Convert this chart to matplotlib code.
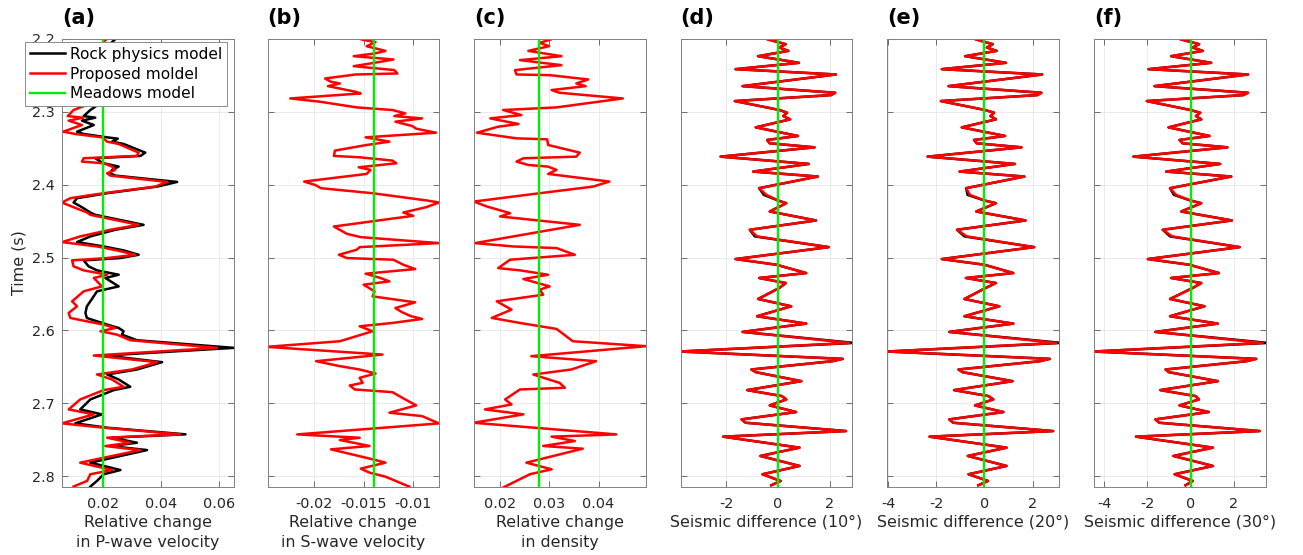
import numpy as np
import matplotlib
matplotlib.use('Agg')
import matplotlib.pyplot as plt
from matplotlib.ticker import FormatStrFormatter

plt.rcParams['font.family'] = ['DejaVu Sans']
plt.rcParams['axes.unicode_minus'] = False

# ---- panel (a): relative change in P-wave velocity ----
t_a = [2.2007, 2.2150, 2.2300, 2.2450, 2.2600, 2.2750, 2.2880,
       2.2975, 2.3058, 2.3080, 2.3121, 2.3181, 2.3272, 2.3304, 2.3350, 2.3368, 2.3409,
       2.3441, 2.3560, 2.3605, 2.3637, 2.3683, 2.3706, 2.3751, 2.3797, 2.3843, 2.3875,
       2.3962, 2.4026, 2.4117, 2.4185, 2.4245, 2.4309, 2.4382, 2.4414, 2.4551, 2.4619,
       2.4710, 2.4788, 2.4848, 2.4902, 2.4962, 2.5007, 2.5039, 2.5121, 2.5176, 2.5236,
       2.5281, 2.5396, 2.5464, 2.5601, 2.5670, 2.5761, 2.5830, 2.5921, 2.5967, 2.6012,
       2.6058, 2.6135, 2.6240, 2.6345, 2.6436, 2.6537, 2.6605, 2.6674, 2.6774, 2.6820,
       2.6948, 2.7085, 2.7153, 2.7276, 2.7336, 2.7427, 2.7473, 2.7542, 2.7588, 2.7643,
       2.7816, 2.7917, 2.7975, 2.8066, 2.8144]
rock_a = [0.0240, 0.0200, 0.0250, 0.0180, 0.0220, 0.0160, 0.0190,
          0.0155, 0.0132, 0.0172, 0.0126, 0.0167, 0.0109, 0.0132, 0.0213, 0.0250, 0.0230,
          0.0270, 0.0345, 0.0328, 0.0172, 0.0190, 0.0201, 0.0253, 0.0230, 0.0224, 0.0241,
          0.0455, 0.0386, 0.0213, 0.0109, 0.0097, 0.0126, 0.0155, 0.0172, 0.0339, 0.0241,
          0.0155, 0.0109, 0.0201, 0.0270, 0.0322, 0.0259, 0.0132, 0.0149, 0.0178, 0.0253,
          0.0207, 0.0253, 0.0178, 0.0155, 0.0143, 0.0138, 0.0143, 0.0213, 0.0253, 0.0270,
          0.0264, 0.0316, 0.0651, 0.0207, 0.0403, 0.0316, 0.0213, 0.0253, 0.0293, 0.0236,
          0.0155, 0.0120, 0.0195, 0.0103, 0.0213, 0.0484, 0.0230, 0.0316, 0.0224, 0.0351,
          0.0155, 0.0259, 0.0201, 0.0178, 0.0155]
prop_a = [0.0210, 0.0170, 0.0220, 0.0150, 0.0190, 0.0130, 0.0160,
          0.0097, 0.0077, 0.0130, 0.0080, 0.0126, 0.0061, 0.0103, 0.0195, 0.0201, 0.0213,
          0.0253, 0.0322, 0.0316, 0.0132, 0.0126, 0.0201, 0.0230, 0.0241, 0.0213, 0.0224,
          0.0420, 0.0380, 0.0201, 0.0086, 0.0057, 0.0097, 0.0144, 0.0155, 0.0322, 0.0224,
          0.0120, 0.0057, 0.0178, 0.0247, 0.0311, 0.0213, 0.0092, 0.0097, 0.0132, 0.0213,
          0.0167, 0.0195, 0.0132, 0.0092, 0.0109, 0.0080, 0.0086, 0.0201, 0.0241, 0.0190,
          0.0247, 0.0293, 0.0593, 0.0167, 0.0386, 0.0299, 0.0178, 0.0230, 0.0270, 0.0201,
          0.0120, 0.0080, 0.0167, 0.0057, 0.0201, 0.0466, 0.0213, 0.0293, 0.0207, 0.0328,
          0.0120, 0.0230, 0.0155, 0.0144, 0.0097]
meadows_a = 0.0199

# ---- panel (b): relative change in S-wave velocity ----
t_b = [2.2007, 2.2044, 2.2099, 2.2163, 2.2199, 2.2236, 2.2281, 2.2322, 2.2373, 2.2427,
       2.2473, 2.2487, 2.2542, 2.2587, 2.2610, 2.2647, 2.2725, 2.2747, 2.2816, 2.2861,
       2.2939, 2.2975, 2.3021, 2.3058, 2.3090, 2.3135, 2.3195, 2.3231, 2.3286, 2.3350,
       2.3409, 2.3455, 2.3532, 2.3605, 2.3624, 2.3669, 2.3706, 2.3761, 2.3797, 2.3852,
       2.3957, 2.4003, 2.4048, 2.4117, 2.4217, 2.4245, 2.4309, 2.4382, 2.4427, 2.4574,
       2.4674, 2.4720, 2.4802, 2.4857, 2.4893, 2.4962, 2.5007, 2.5030, 2.5099, 2.5158,
       2.5222, 2.5281, 2.5327, 2.5373, 2.5464, 2.5533, 2.5615, 2.5693, 2.5752, 2.5806,
       2.5843, 2.5898, 2.5944, 2.6012, 2.6149, 2.6226, 2.6332, 2.6423, 2.6491, 2.6537,
       2.6592, 2.6651, 2.6720, 2.6756, 2.6811, 2.6848, 2.6948, 2.7030, 2.7130, 2.7177,
       2.7277, 2.7428, 2.7474, 2.7505, 2.7587, 2.7633, 2.7770, 2.7816, 2.7898, 2.7953,
       2.8008, 2.8145]
prop_b = [-0.0152, -0.0138, -0.0147, -0.0128, -0.0139, -0.0160, -0.0120, -0.0137, -0.0160, -0.0119,
          -0.0116, -0.0158, -0.0189, -0.0183, -0.0174, -0.0186, -0.0158, -0.0153, -0.0224, -0.0194,
          -0.0157, -0.0121, -0.0108, -0.0119, -0.0091, -0.0118, -0.0101, -0.0097, -0.0077, -0.0148,
          -0.0124, -0.0147, -0.0179, -0.0180, -0.0154, -0.0121, -0.0117, -0.0155, -0.0143, -0.0147,
          -0.0210, -0.0199, -0.0193, -0.0141, -0.0086, -0.0074, -0.0087, -0.0110, -0.0100, -0.0180,
          -0.0167, -0.0153, -0.0074, -0.0154, -0.0157, -0.0175, -0.0167, -0.0120, -0.0110, -0.0098,
          -0.0148, -0.0133, -0.0124, -0.0150, -0.0139, -0.0141, -0.0098, -0.0118, -0.0111, -0.0102,
          -0.0091, -0.0121, -0.0154, -0.0141, -0.0174, -0.0248, -0.0131, -0.0198, -0.0174, -0.0154,
          -0.0138, -0.0154, -0.0151, -0.0164, -0.0159, -0.0121, -0.0108, -0.0097, -0.0124, -0.0091,
          -0.0074, -0.0217, -0.0154, -0.0174, -0.0144, -0.0183, -0.0141, -0.0128, -0.0153, -0.0144,
          -0.0128, -0.0104]
meadows_b = -0.0140

# ---- panel (c): relative change in density ----
t_c = [2.2007, 2.2053, 2.2099, 2.2163, 2.2236, 2.2290, 2.2359, 2.2427, 2.2487, 2.2496,
       2.2555, 2.2610, 2.2647, 2.2701, 2.2738, 2.2816, 2.2939, 2.2975, 2.3044, 2.3090,
       2.3167, 2.3204, 2.3286, 2.3332, 2.3364, 2.3377, 2.3455, 2.3560, 2.3615, 2.3637,
       2.3683, 2.3729, 2.3752, 2.3797, 2.3852, 2.3957, 2.4026, 2.4117, 2.4231, 2.4299,
       2.4391, 2.4436, 2.4551, 2.4802, 2.4848, 2.4870, 2.4962, 2.5030, 2.5145, 2.5176,
       2.5236, 2.5295, 2.5396, 2.5441, 2.5510, 2.5601, 2.5715, 2.5829, 2.5898, 2.5980,
       2.6149, 2.6217, 2.6354, 2.6423, 2.6537, 2.6606, 2.6720, 2.6788, 2.6811, 2.6948,
       2.7017, 2.7085, 2.7153, 2.7268, 2.7428, 2.7459, 2.7519, 2.7587, 2.7624, 2.7816,
       2.7907, 2.7975, 2.8158]
prop_c = [0.0303, 0.0281, 0.0300, 0.0258, 0.0325, 0.0241, 0.0325, 0.0231, 0.0234, 0.0301,
          0.0379, 0.0355, 0.0374, 0.0305, 0.0321, 0.0449, 0.0315, 0.0207, 0.0244, 0.0181,
          0.0238, 0.0197, 0.0154, 0.0201, 0.0234, 0.0296, 0.0298, 0.0362, 0.0355, 0.0248,
          0.0234, 0.0258, 0.0298, 0.0315, 0.0298, 0.0422, 0.0389, 0.0281, 0.0148, 0.0174,
          0.0221, 0.0201, 0.0362, 0.0150, 0.0228, 0.0315, 0.0352, 0.0221, 0.0197, 0.0241,
          0.0298, 0.0248, 0.0301, 0.0281, 0.0288, 0.0194, 0.0224, 0.0184, 0.0241, 0.0315,
          0.0348, 0.0496, 0.0264, 0.0395, 0.0345, 0.0268, 0.0321, 0.0332, 0.0241, 0.0211,
          0.0224, 0.0170, 0.0248, 0.0147, 0.0436, 0.0305, 0.0352, 0.0288, 0.0368, 0.0254,
          0.0305, 0.0261, 0.0207]
meadows_c = 0.0279

# ---- panels (d)-(f): seismic differences at 10, 20, 30 degrees ----
t_s = [2.2007, 2.2071, 2.2117, 2.2163, 2.2236, 2.2327, 2.2414, 2.2487, 2.2647, 2.2738,
       2.2770, 2.2852, 2.2975, 2.3012, 2.3058, 2.3103, 2.3213, 2.3331, 2.3386, 2.3432,
       2.3487, 2.3615, 2.3715, 2.3820, 2.3888, 2.4048, 2.4140, 2.4217, 2.4254, 2.4368,
       2.4491, 2.4619, 2.4710, 2.4857, 2.5021, 2.5099, 2.5213, 2.5281, 2.5350, 2.5418,
       2.5569, 2.5669, 2.5806, 2.5907, 2.6021, 2.6172, 2.6290, 2.6391, 2.6423, 2.6537,
       2.6574, 2.6697, 2.6820, 2.6902, 2.6948, 2.7030, 2.7121, 2.7222, 2.7268, 2.7382,
       2.7459, 2.7610, 2.7724, 2.7861, 2.7975, 2.8067, 2.8126]
prop_d = [-0.38, 0.30, 0.05, 0.40, -0.77, 0.81, -1.64, 2.24, -1.37, 2.21,
          2.05, -1.67, 0.06, 0.35, 0.20, 0.47, -0.86, 0.77, -0.42, -0.32,
          1.41, -2.22, 1.19, -0.96, 1.54, -0.73, -0.45, 0.00, 0.32, -0.32,
          1.47, -1.09, -0.81, 1.96, -1.64, -0.06, 1.09, -0.73, 0.30, 0.05,
          -0.77, 0.51, -0.81, 1.09, -1.37, 2.76, -3.78, 2.50, 2.10, -1.03,
          -0.85, 0.90, -1.19, 0.15, 0.32, -0.32, 0.70, -1.41, -1.25, 2.63,
          -2.12, 0.83, -0.68, 0.83, -0.60, 0.10, -0.26]
rock_d = [-0.38, 0.30, 0.05, 0.40, -0.77, 0.81, -1.64, 2.24, -1.37, 2.21,
          2.05, -1.67, 0.06, 0.35, 0.20, 0.47, -0.86, 0.77, -0.42, -0.32,
          1.41, -2.22, 1.19, -0.96, 1.54, -0.73, -0.55, 0.00, 0.32, -0.32,
          1.47, -1.09, -0.90, 1.96, -1.64, -0.06, 1.09, -0.73, 0.30, 0.05,
          -0.77, 0.51, -0.81, 1.09, -1.37, 2.95, -3.78, 2.50, 2.10, -1.03,
          -0.85, 0.90, -1.19, 0.15, 0.32, -0.32, 0.70, -1.41, -1.25, 2.63,
          -2.12, 0.83, -0.68, 0.83, -0.60, 0.10, -0.26]
prop_e = [-0.34, 0.35, 0.10, 0.51, -0.80, 0.90, -1.77, 2.40, -1.49, 2.37,
          2.20, -1.81, 0.03, 0.40, 0.25, 0.48, -0.94, 0.86, -0.43, -0.32,
          1.54, -2.36, 1.27, -1.03, 1.66, -0.76, -0.60, 0.00, 0.48, -0.34,
          1.71, -1.14, -0.73, 2.07, -1.77, 0.00, 1.20, -0.77, 0.48, 0.05,
          -0.83, 0.62, -0.83, 1.20, -1.46, 3.00, -4.04, 2.72, 2.30, -1.08,
          -0.90, 1.17, -1.26, 0.17, 0.37, -0.39, 0.79, -1.46, -1.30, 2.86,
          -2.28, 0.92, -0.69, 0.92, -0.66, 0.15, -0.25]
rock_e = [-0.34, 0.35, 0.10, 0.51, -0.80, 0.90, -1.77, 2.40, -1.49, 2.37,
          2.20, -1.81, 0.03, 0.40, 0.25, 0.48, -0.94, 0.86, -0.43, -0.32,
          1.54, -2.36, 1.27, -1.03, 1.66, -0.76, -0.70, 0.00, 0.48, -0.34,
          1.71, -1.14, -0.83, 2.07, -1.77, 0.00, 1.20, -0.77, 0.48, 0.05,
          -0.83, 0.62, -0.83, 1.20, -1.46, 3.20, -4.04, 2.72, 2.30, -1.08,
          -0.90, 1.17, -1.26, 0.17, 0.37, -0.39, 0.79, -1.46, -1.30, 2.86,
          -2.28, 0.92, -0.69, 0.92, -0.66, 0.15, -0.25]
prop_f = [-0.43, 0.40, 0.10, 0.57, -0.90, 0.96, -1.95, 2.67, -1.67, 2.67,
          2.45, -2.03, 0.00, 0.45, 0.25, 0.50, -1.02, 0.88, -0.51, -0.36,
          1.71, -2.65, 1.38, -1.13, 1.89, -0.95, -0.67, 0.00, 0.50, -0.43,
          1.92, -1.29, -0.85, 2.28, -1.98, -0.05, 1.32, -0.90, 0.50, 0.10,
          -0.95, 0.65, -0.95, 1.27, -1.63, 3.35, -4.50, 3.05, 2.60, -1.16,
          -1.00, 1.27, -1.40, 0.23, 0.39, -0.51, 0.85, -1.63, -1.45, 3.21,
          -2.53, 1.04, -0.79, 1.04, -0.74, 0.10, -0.23]
rock_f = [-0.43, 0.40, 0.10, 0.57, -0.90, 0.96, -1.95, 2.67, -1.67, 2.67,
          2.45, -2.03, 0.00, 0.45, 0.25, 0.50, -1.02, 0.88, -0.51, -0.36,
          1.71, -2.65, 1.38, -1.13, 1.89, -0.95, -0.77, 0.00, 0.50, -0.43,
          1.92, -1.29, -0.95, 2.28, -1.98, -0.05, 1.32, -0.90, 0.50, 0.10,
          -0.95, 0.65, -0.95, 1.27, -1.63, 3.60, -4.50, 3.05, 2.60, -1.16,
          -1.00, 1.27, -1.40, 0.23, 0.39, -0.51, 0.85, -1.63, -1.45, 3.21,
          -2.53, 1.04, -0.79, 1.04, -0.74, 0.10, -0.23]
meadows_s = 0.0

panel_tags = ['(a)', '(b)', '(c)', '(d)', '(e)', '(f)']
xlabels = ['Relative change\nin P-wave velocity',
           'Relative change\nin S-wave velocity',
           'Relative change\nin density',
           'Seismic difference (10°)',
           'Seismic difference (20°)',
           'Seismic difference (30°)']
xlims = [(0.0057, 0.065), (-0.0247, -0.0074), (0.0148, 0.0495),
         (-3.77, 2.86), (-4.05, 3.08), (-4.48, 3.48)]
xticks = [[0.02, 0.04, 0.06], [-0.02, -0.015, -0.01], [0.02, 0.03, 0.04],
          [-2, 0, 2], [-4, -2, 0, 2], [-4, -2, 0, 2]]
yticks = [2.2, 2.3, 2.4, 2.5, 2.6, 2.7, 2.8]

times = [t_a, t_b, t_c, t_s, t_s, t_s]
rock = [rock_a, None, None, rock_d, rock_e, rock_f]
prop = [prop_a, prop_b, prop_c, prop_d, prop_e, prop_f]
meadows = [meadows_a, meadows_b, meadows_c, meadows_s, meadows_s, meadows_s]

W, H = 1303, 555
fig = plt.figure(figsize=(W / 100, H / 100), dpi=100)
lefts = [62, 267.5, 474, 680.5, 887, 1094]
axw = 171.5
ax_bottom, ax_h = 68, 448
txt = '0.15'

for i in range(6):
    ax = fig.add_axes([lefts[i] / W, ax_bottom / H, axw / W, ax_h / H])
    if rock[i] is not None:
        ax.plot(rock[i], times[i], color='black', lw=1.8, label='Rock physics model')
    else:
        ax.plot([], [], color='black', lw=1.8, label='Rock physics model')
    ax.plot(prop[i], times[i], color='red', lw=1.8, label='Proposed moldel')
    ax.axvline(meadows[i], color='#00ee00', lw=1.7, label='Meadows model')

    ax.set_xlim(*xlims[i])
    ax.set_ylim(2.815, 2.2)
    ax.set_xticks(xticks[i])
    ax.set_yticks(yticks)
    ax.xaxis.set_major_formatter(FormatStrFormatter('%g'))
    ax.yaxis.set_major_formatter(FormatStrFormatter('%g'))
    ax.grid(True, color='0.9', lw=0.6)
    ax.set_axisbelow(True)
    ax.tick_params(direction='in', top=True, right=True, length=4,
                   color='0.35', labelcolor=txt, labelsize=10.4, width=0.6)
    ax.tick_params(axis='x', pad=7)
    ax.tick_params(axis='y', pad=5)
    for s in ax.spines.values():
        s.set_color('0.5')
        s.set_linewidth(0.7)
    ax.set_xlabel(xlabels[i], fontsize=11.4, color=txt, labelpad=3, linespacing=1.45)
    ax.text(0.0, 1.025, panel_tags[i], transform=ax.transAxes, ha='left', va='bottom',
            fontsize=15, fontweight='bold')
    if i == 0:
        ax.set_ylabel('Time (s)', fontsize=11.4, color=txt, labelpad=4)
        leg = ax.legend(loc='upper left', bbox_to_anchor=(25 / W, 1 - 42 / H),
                        bbox_transform=fig.transFigure, borderaxespad=0,
                        fontsize=11.1, fancybox=False, framealpha=1, edgecolor='0.55',
                        handlelength=2.3, handletextpad=0.3, labelspacing=0.32,
                        borderpad=0.3)
        leg.get_frame().set_linewidth(0.7)
    else:
        ax.set_yticklabels([])

fig.savefig('out.png', dpi=100)
